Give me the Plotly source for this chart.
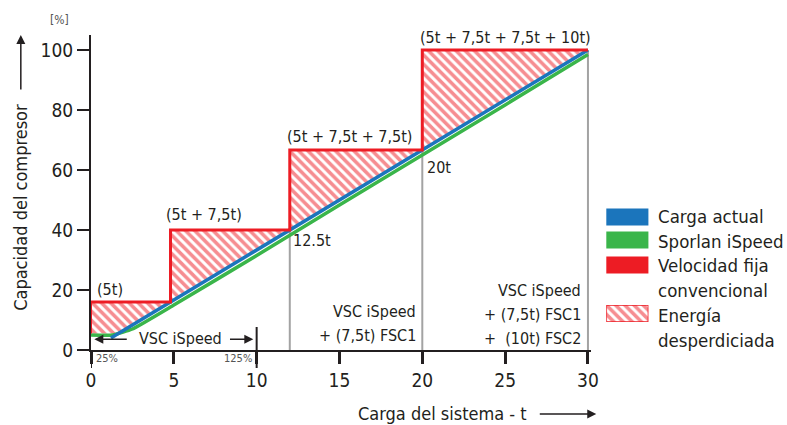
import plotly.graph_objects as go

# ---------------- data ----------------
# conventional fixed-speed capacity steps (x = system load, y = capacity %)
fixed_x = [0, 0, 4.8, 4.8, 12, 12, 20, 20, 30]
fixed_y = [5.5, 16, 16, 40, 40, 66.67, 66.67, 100, 100]

# actual load line
load_x = [1.2, 30]
load_y = [4, 100]

# Sporlan iSpeed capacity
isp_x = [0, 1.3, 2.5, 5, 10, 15, 20, 25, 30]
isp_y = [5, 5, 7, 15, 31.5, 48.3, 65, 81.7, 98.5]

# lower boundary of wasted-energy area
waste_low_x = [0, 1.65, 30]
waste_low_y = [5.5, 5.5, 100]

# stage boundaries (gray verticals) and their top levels
stage_x = [12, 20, 30]
stage_top = [40, 66.67, 100]

# VSC iSpeed range marks
vsc_range = [0, 10]
vsc_pct = ["25%", "125%"]

x_ticks = [0, 5, 10, 15, 20, 25, 30]
y_ticks = [0, 20, 40, 60, 80, 100]

step_labels = ["(5t)", "(5t + 7,5t)", "(5t + 7,5t + 7,5t)", "(5t + 7,5t + 7,5t + 10t)"]
step_label_x = [0.25, 6.8, 15.6, 25.0]
step_label_y = [20.3, 45.3, 71.3, 104.3]

stage2_lines = ["VSC iSpeed", "+ (7,5t) FSC1"]
stage2_y = [12.7, 4.7]
stage3_lines = ["VSC iSpeed", "+ (7,5t) FSC1", "+  (10t) FSC2"]
stage3_y = [19.7, 11.7, 4.0]

RED = "#ED1C24"
BLUE = "#1B75BC"
GREEN = "#3AB54A"
GRAY = "#A3A3A3"
TXT = "#231F20"
FONT = "Liberation Sans Narrow, DejaVu Sans Condensed, Roboto, sans-serif"
FS = 16
LFS = 18.5
TFS = 18

# layout geometry (pixels)
L, T, B = 91, 35, 75
PW = (787 - L) * 0.986   # effective paper width
PH = 425 - T - B
PLOT_W = 499


def px(p):
    return (p - L) / PW


def py(p):
    return (350 - p) / PH


fig = go.Figure()

# wasted energy hatch
fig.add_trace(go.Scatter(x=waste_low_x, y=waste_low_y, mode="lines",
                         line=dict(width=0), showlegend=False, hoverinfo="skip"))
fig.add_trace(go.Scatter(x=fixed_x, y=fixed_y, mode="lines", line=dict(width=0),
                         fill="tonexty", fillcolor="rgba(0,0,0,0)",
                         fillpattern=dict(shape="\\", fgcolor=RED, bgcolor="rgba(0,0,0,0)",
                                          size=6.5, solidity=0.55),
                         showlegend=False, hoverinfo="skip"))

# gray stage verticals
for sx, st in zip(stage_x, stage_top):
    fig.add_trace(go.Scatter(x=[sx, sx], y=[0, st], mode="lines",
                             line=dict(color=GRAY, width=2), showlegend=False))

fig.add_trace(go.Scatter(x=isp_x, y=isp_y, mode="lines",
                         line=dict(color=GREEN, width=3.5, shape="spline", smoothing=0.4),
                         showlegend=False))
fig.add_trace(go.Scatter(x=load_x, y=load_y, mode="lines",
                         line=dict(color=BLUE, width=3.5), showlegend=False))
fig.add_trace(go.Scatter(x=fixed_x[1:], y=fixed_y[1:], mode="lines",
                         line=dict(color=RED, width=3), showlegend=False))
fig.add_trace(go.Scatter(x=fixed_x[:2], y=fixed_y[:2], mode="lines",
                         line=dict(color=RED, width=2), showlegend=False))

# ---------------- annotations ----------------
ann = []
for i, (t, x, y) in enumerate(zip(step_labels, step_label_x, step_label_y)):
    ann.append(dict(x=x, y=y, text=t, showarrow=False, xanchor="left" if i == 0 else "center",
                    font=dict(size=FS, color=TXT)))
ann.append(dict(x=12.1, y=36.5, text="12.5t", showarrow=False, xanchor="left",
                font=dict(size=FS, color=TXT)))
ann.append(dict(x=20.15, y=61, text="20t", showarrow=False, xanchor="left",
                font=dict(size=FS, color=TXT)))
for t, y in zip(stage2_lines, stage2_y):
    ann.append(dict(x=19.75, y=y, text=t, showarrow=False, xanchor="right",
                    font=dict(size=FS, color=TXT)))
for t, y in zip(stage3_lines, stage3_y):
    ann.append(dict(x=29.7, y=y, text=t, showarrow=False, xanchor="right",
                    font=dict(size=FS, color=TXT)))
# VSC iSpeed range
ann.append(dict(x=5.4, y=3.8, text="VSC iSpeed", showarrow=False,
                font=dict(size=FS, color=TXT)))
ann.append(dict(x=0.2, y=3.6, ax=2.25, ay=3.6, axref="x", ayref="y", text="",
                showarrow=True, arrowhead=2, arrowsize=1.2, arrowwidth=1.5, arrowcolor=TXT))
ann.append(dict(x=9.8, y=3.6, ax=8.3, ay=3.6, axref="x", ayref="y", text="",
                showarrow=True, arrowhead=2, arrowsize=1.2, arrowwidth=1.5, arrowcolor=TXT))
ann.append(dict(x=vsc_range[0] + 0.2, yref="paper", y=py(359), text=vsc_pct[0], showarrow=False,
                xanchor="left", yanchor="middle", font=dict(size=11, color="#555555")))
ann.append(dict(x=vsc_range[1] - 0.15, yref="paper", y=py(359), text=vsc_pct[1], showarrow=False,
                xanchor="right", yanchor="middle", font=dict(size=11, color="#555555")))
# [%]
ann.append(dict(xref="paper", yref="paper", x=px(60), y=py(20), text="[%]", showarrow=False,
                xanchor="center", yanchor="middle", font=dict(size=12, color="#555555")))
# axis titles
ann.append(dict(xref="paper", yref="paper", x=px(20), y=py(207), text="Capacidad del compresor",
                textangle=-90, showarrow=False, font=dict(size=TFS, color=TXT),
                xanchor="center", yanchor="middle"))
ann.append(dict(xref="paper", yref="paper", x=px(21), y=py(35), ax=0, ay=56, text="",
                showarrow=True, arrowhead=2, arrowsize=1.2, arrowwidth=1.5, arrowcolor=TXT))
ann.append(dict(xref="paper", yref="paper", x=px(442), y=py(413), text="Carga del sistema - t",
                showarrow=False, font=dict(size=TFS, color=TXT), xanchor="center", yanchor="middle"))
ann.append(dict(xref="paper", yref="paper", x=px(595), y=py(414), ax=-58, ay=0, text="",
                showarrow=True, arrowhead=2, arrowsize=1.2, arrowwidth=1.5, arrowcolor=TXT))

# ---------------- legend (manual) ----------------
shapes = []
leg_cols = [BLUE, GREEN, RED]
leg_y = [217, 240, 265]  # pixel centres of swatches
for col, yc in zip(leg_cols, leg_y):
    shapes.append(dict(type="rect", xref="paper", yref="paper", x0=px(605), x1=px(647),
                       y0=py(yc + 8.5), y1=py(yc - 8.5), fillcolor=col, line=dict(width=0)))
leg_text = ["Carga actual", "Sporlan iSpeed", "Velocidad fija", "convencional", "Energía", "desperdiciada"]
leg_text_y = [217, 241, 265, 290, 315, 340]
for lbl, yc in zip(leg_text, leg_text_y):
    ann.append(dict(xref="paper", yref="paper", x=px(655), y=py(yc), text=lbl,
                    showarrow=False, xanchor="left", yanchor="middle", font=dict(size=LFS, color=TXT)))

# hatched swatch via a small helper axis
fig.add_trace(go.Scatter(x=[0, 1, 1, 0, 0], y=[0, 0, 1, 1, 0], mode="lines", xaxis="x2", yaxis="y2",
                         fill="toself", fillcolor="rgba(0,0,0,0)", line=dict(color=RED, width=1.5),
                         fillpattern=dict(shape="\\", fgcolor=RED, bgcolor="rgba(0,0,0,0)", size=6.5, solidity=0.55),
                         showlegend=False, hoverinfo="skip"))

# long marks at the VSC range ends
for vx in vsc_range:
    shapes.append(dict(type="line", xref="x", yref="paper", x0=vx, x1=vx,
                       y0=py(368), y1=py(350) if vx == 0 else py(327), line=dict(color=TXT, width=2)))

fig.update_layout(
    width=787, height=425,
    margin=dict(l=L, r=0, t=T, b=B),
    paper_bgcolor="white", plot_bgcolor="white",
    font=dict(family=FONT, color=TXT),
    showlegend=False,
    annotations=ann, shapes=shapes,
    xaxis=dict(domain=[0, PLOT_W / PW], range=[0, 30.2], tickvals=x_ticks, showgrid=False, zeroline=False,
               showline=True, linecolor=TXT, linewidth=2,
               ticks="outside", ticklen=12, tickwidth=2.5, tickcolor=TXT,
               tickfont=dict(size=19, family=FONT), fixedrange=True),
    yaxis=dict(range=[0, 105], tickvals=y_ticks, showgrid=False, zeroline=False,
               showline=True, linecolor=TXT, linewidth=2,
               ticks="outside", ticklen=12, tickwidth=2, tickcolor=TXT,
               tickfont=dict(size=19, family=FONT), fixedrange=True),
    xaxis2=dict(domain=[px(605), px(647)], anchor="y2", range=[0, 1], visible=False, fixedrange=True),
    yaxis2=dict(domain=[py(322), py(305)], anchor="x2", range=[0, 1], visible=False, fixedrange=True),
)
fig.write_html("out.html", config={"displayModeBar": False},
               post_script="document.body.style.margin='0';")
